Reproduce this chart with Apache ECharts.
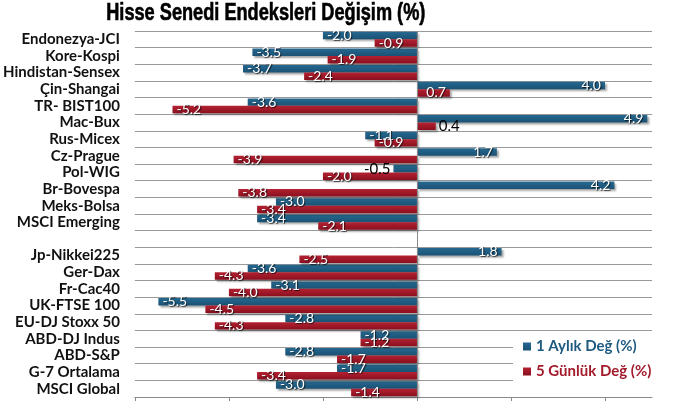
<!DOCTYPE html>
<html>
<head>
<meta charset="utf-8">
<script src="https://cdn.jsdelivr.net/npm/echarts@6/dist/echarts.min.js"></script>
<style>html,body{margin:0;padding:0;background:#fff;}#c{width:673px;height:412px;}</style>
</head>
<body>
<div id="c"></div>
<script>
var categories = ['Endonezya-JCI','Kore-Kospi','Hindistan-Sensex','Çin-Shangai','TR- BIST100','Mac-Bux','Rus-Micex','Cz-Prague','Pol-WIG','Br-Bovespa','Meks-Bolsa','MSCI Emerging','','Jp-Nikkei225','Ger-Dax','Fr-Cac40','UK-FTSE 100','EU-DJ Stoxx 50','ABD-DJ Indus','ABD-S&P','G-7 Ortalama','MSCI Global'];
var monthly = [-2.0,-3.5,-3.7,4.0,-3.6,4.9,-1.1,1.7,-0.5,4.2,-3.0,-3.4,null,1.8,-3.6,-3.1,-5.5,-2.8,-1.2,-2.8,-1.7,-3.0];
var fiveDay = [-0.9,-1.9,-2.4,0.7,-5.2,0.4,-0.9,-3.9,-2.0,-3.8,-3.4,-2.1,null,-2.5,-4.3,-4.0,-4.5,-4.3,-1.2,-1.7,-3.4,-1.4];
var seriesNames = ['1 Aylık Değ (%)','5 Günlük Değ (%)'];
var xTicks = [-6,-4,-2,0,2,4];
var titleText = 'Hisse Senedi Endeksleri Değişim (%)';

var FONT = 'Lato';
function items(arr){
  return arr.map(function(v){
    if(v === null) return {value:null};
    var small = Math.abs(v) < 0.6;
    var lab;
    if(small){
      lab = {position: v<0?'left':'right', color:'#000', fontSize:15, distance:3, textShadowBlur:0, textShadowOffsetX:0, textShadowOffsetY:0, textShadowColor:'transparent'};
    } else {
      lab = {position: v<0?'insideLeft':'insideRight', distance:4};
    }
    return {value:v, label:lab};
  });
}
function barSeries(name, arr, c1, c2){
  return {
    name:name, type:'bar', data:items(arr),
    barGap:'0%', barCategoryGap:'10%',
    itemStyle:{color:new echarts.graphic.LinearGradient(0,0,0,1,[{offset:0,color:c1},{offset:1,color:c2}]),
      shadowColor:'rgba(0,0,0,0.35)', shadowBlur:2, shadowOffsetX:2, shadowOffsetY:2},
    label:{show:true, color:'#fff', fontFamily:FONT, fontSize:14,
      formatter:function(p){return p.value.toFixed(1);},
      textShadowColor:'rgba(0,0,0,0.7)', textShadowBlur:1, textShadowOffsetX:1, textShadowOffsetY:1}
  };
}
var s1 = barSeries(seriesNames[0], monthly, '#266890', '#1a5274');
s1.markLine = {silent:true, symbol:['none','none'], label:{show:false}, lineStyle:{color:'#8a8a8a', type:'solid', width:1}, data:[{xAxis:0}], animation:false};
var s2 = barSeries(seriesNames[1], fiveDay, '#b42232', '#8a0f1e');

var chart = echarts.init(document.getElementById('c'));
chart.setOption({
  animation:false,
  backgroundColor:'#fff',
  graphic:[{type:'text', left:106, top:2, scaleX:0.79, originX:0,
    style:{text:titleText, fontFamily:'Liberation Sans', fontWeight:'bold', fontSize:23, fill:'#000', stroke:'#000', lineWidth:0.6}}],
  legend:{orient:'vertical', left:513, top:333, itemWidth:8, itemHeight:8, itemGap:10, icon:'rect',
    backgroundColor:'#fff', padding:[6,10,8,10],
    data:[{name:seriesNames[0], textStyle:{color:'#1f5a80'}},{name:seriesNames[1], textStyle:{color:'#a31a2b'}}],
    textStyle:{fontFamily:FONT, fontWeight:'bold', fontSize:15}},
  grid:{left:133, right:21, top:31, bottom:15, containLabel:false},
  xAxis:{type:'value', min:-6, max:5, interval:2,
    axisLine:{show:true, onZero:false, lineStyle:{color:'#8a8a8a'}},
    axisTick:{show:true, length:4, customValues:xTicks, lineStyle:{color:'#8a8a8a'}},
    axisLabel:{show:false}, splitLine:{show:false}},
  yAxis:{type:'category', data:categories, inverse:true,
    axisLine:{show:false, onZero:false}, axisTick:{show:false, interval:0},
    axisLabel:{interval:0, fontFamily:FONT, fontWeight:'bold', fontSize:15, color:'#111', margin:15},
    splitLine:{show:true, interval:0, lineStyle:{color:'#999', width:1}}},
  series:[s1, s2]
});
</script>
</body>
</html>
